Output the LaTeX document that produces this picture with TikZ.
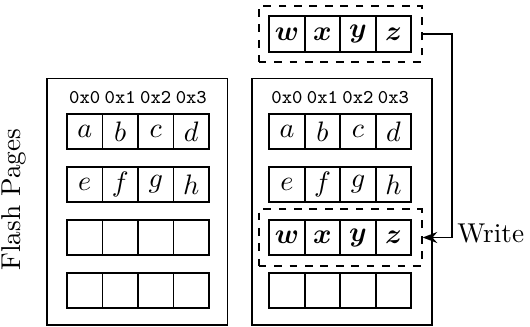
\documentclass[tikz,border=0pt]{standalone}
\usepackage{amsmath,bm}
\usepackage{tikz}
\usetikzlibrary{arrows.meta,positioning,fit}

\begin{document}
\begin{tikzpicture}[
  every node/.style={font=\fontsize{10.6}{13}\selectfont},
  page/.style={rectangle, draw, line width=0.7pt,
    minimum width=2.47cm, minimum height=3.37cm},
  cell/.style={rectangle, draw, line width=0.7pt, inner sep=0pt,
    minimum width=0.486cm, minimum height=0.486cm},
  addr/.style={inner sep=0pt, font=\fontsize{7.6}{9}\selectfont\ttfamily},
  pending/.style={rectangle, draw, dashed, line width=0.7pt, inner sep=0.13cm},
  arrow/.style={-{Stealth[length=2mm]}, line width=0.7pt},
]
\useasboundingbox (0,0) rectangle (7.25,4.473);

% Flash pages
\node[page] (oldpage) at (1.878,1.713) {};
\node[page] (newpage) at (4.679,1.713) {};
\node[rotate=90, anchor=south, inner sep=0pt] (title) at ([xshift=-0.26cm, yshift=0.03cm]oldpage.west) {Flash Pages};

% Old page contents
\foreach \t [count=\c from 0] in {a,b,c,d}
  \node[cell] (oa\c) at ({1.159+0.486*\c},2.674) {$\t$};
\foreach \t [count=\c from 0] in {e,f,g,h}
  \node[cell] (ob\c) at ({1.159+0.486*\c},1.949) {$\t$};
\foreach \c in {0,...,3} {
  \node[cell] (oc\c) at ({1.159+0.486*\c},1.224) {};
  \node[cell] (od\c) at ({1.159+0.486*\c},0.499) {};
  \node[addr, above=0.12cm of oa\c] (oaddr\c) {0x\c};
}

% New page contents
\foreach \t [count=\c from 0] in {a,b,c,d}
  \node[cell] (na\c) at ({3.925+0.486*\c},2.674) {$\t$};
\foreach \t [count=\c from 0] in {e,f,g,h}
  \node[cell] (nb\c) at ({3.925+0.486*\c},1.949) {$\t$};
\foreach \t [count=\c from 0] in {w,x,y,z}
  \node[cell] (nc\c) at ({3.925+0.486*\c},1.224) {$\bm{\t}$};
\foreach \c in {0,...,3} {
  \node[cell] (nd\c) at ({3.925+0.486*\c},0.499) {};
  \node[addr, above=0.12cm of na\c] (naddr\c) {0x\c};
}

% Buffered data
\foreach \t [count=\c from 0] in {w,x,y,z}
  \node[cell] (buf\c) at ({3.925+0.486*\c},4.008) {$\bm{\t}$};
\node[pending, fit=(buf0)(buf3)] (buffer) {};
\node[pending, fit=(nc0)(nc3)] (target) {};

% Write
\draw[arrow] (buffer.east) -- ++(0.4,0) coordinate (turn) |- (target.east);
\coordinate (corner) at (turn |- target.east);
\node[right=0.07cm of corner, yshift=0.06cm, inner sep=0pt] (write) {Write};
\end{tikzpicture}
\end{document}
